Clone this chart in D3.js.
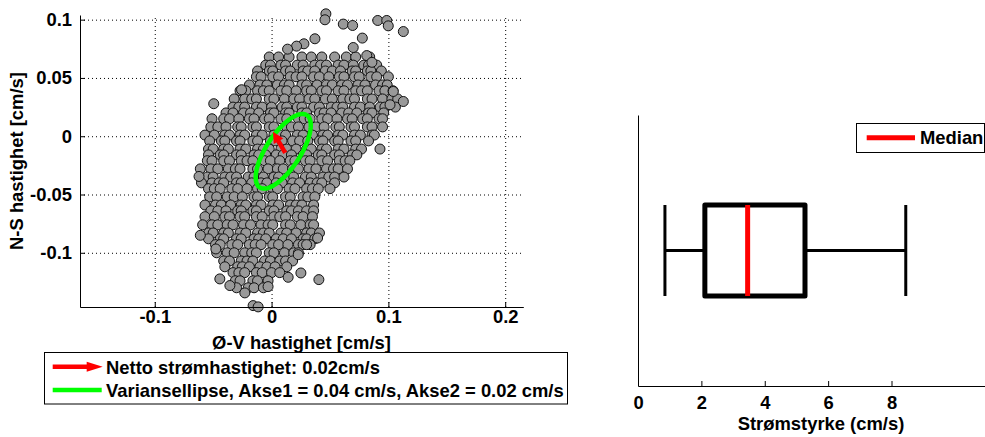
<!DOCTYPE html>
<html><head><meta charset="utf-8">
<script src="https://cdn.jsdelivr.net/npm/d3@7"></script>
<style>
body{margin:0;background:#fff}
svg{display:block}
text{font-family:"Liberation Sans",Arial,sans-serif;font-weight:bold;fill:#000}
</style>
</head><body>
<svg id="c" width="985" height="437"></svg>
<script>
// ---------- DATA ----------
const xTicks = [-0.1, 0, 0.1, 0.2];
const xTickLabels = ["-0.1", "0", "0.1", "0.2"];
const yTicks = [-0.1, -0.05, 0, 0.05, 0.1];
const yTickLabels = ["-0.1", "-0.05", "0", "0.05", "0.1"];

// scatter cloud (Ø-V, N-S velocities)
const cloudRowY = [0.068, 0.061, 0.056, 0.051, 0.044, 0.039, 0.032, 0.025, 0.020, 0.015, 0.008, 0.001,
  -0.004, -0.011, -0.016, -0.021, -0.028, -0.035, -0.040, -0.045, -0.052, -0.059, -0.064, -0.069,
  -0.076, -0.083, -0.088, -0.093, -0.100, -0.107, -0.112, -0.117, -0.124, -0.130];
const cloudRowX = [
  [-0.002, 0.006, 0.015, 0.026, 0.034, 0.043, 0.054, 0.064, 0.072, 0.084],
  [-0.005, -0.001, 0.008, 0.012, 0.022, 0.027, 0.037, 0.042, 0.047, 0.057, 0.062, 0.070, 0.079, 0.083, 0.090],
  [-0.012, -0.002, 0.001, 0.012, 0.016, 0.027, 0.031, 0.037, 0.046, 0.052, 0.059, 0.069, 0.072, 0.082, 0.085, 0.094],
  [-0.013, -0.009, 0.001, 0.006, 0.016, 0.021, 0.026, 0.036, 0.041, 0.049, 0.058, 0.062, 0.071, 0.075, 0.085, 0.090, 0.100],
  [-0.019, -0.010, -0.004, 0.005, 0.011, 0.015, 0.026, 0.030, 0.039, 0.047, 0.052, 0.060, 0.065, 0.074, 0.080, 0.089, 0.095, 0.099],
  [-0.027, -0.022, -0.012, -0.007, -0.002, 0.008, 0.013, 0.021, 0.030, 0.034, 0.043, 0.047, 0.057, 0.062, 0.072, 0.077, 0.082, 0.092, 0.097, 0.104],
  [-0.032, -0.023, -0.017, -0.013, -0.002, 0.002, 0.011, 0.019, 0.024, 0.032, 0.037, 0.046, 0.052, 0.061, 0.067, 0.071, 0.082, 0.086, 0.095, 0.103, 0.108],
  [-0.033, -0.028, -0.023, -0.013, -0.008, 0, 0.009, 0.013, 0.022, 0.026, 0.036, 0.041, 0.051, 0.056, 0.061, 0.071, 0.076, 0.084, 0.093, 0.097, 0.106],
  [-0.039, -0.033, -0.024, -0.018, -0.011, -0.001, 0.002, 0.012, 0.015, 0.026, 0.030, 0.041, 0.045, 0.051, 0.060, 0.066, 0.073, 0.083, 0.086, 0.096],
  [-0.051, -0.041, -0.036, -0.028, -0.019, -0.015, -0.006, -0.002, 0.008, 0.013, 0.023, 0.028, 0.033, 0.043, 0.048, 0.056, 0.065, 0.069, 0.078, 0.082, 0.092, 0.095],
  [-0.052, -0.046, -0.039, -0.029, -0.026, -0.016, -0.013, -0.002, 0.002, 0.013, 0.017, 0.023, 0.032, 0.038, 0.045, 0.055, 0.058, 0.068, 0.071, 0.082, 0.086, 0.095],
  [-0.057, -0.049, -0.040, -0.036, -0.027, -0.023, -0.013, -0.008, 0.002, 0.007, 0.012, 0.022, 0.027, 0.035, 0.044, 0.048, 0.057, 0.061, 0.071, 0.076, 0.086, 0.088],
  [-0.053, -0.043, -0.040, -0.030, -0.027, -0.016, -0.012, -0.001, 0.003, 0.009, 0.018, 0.024, 0.031, 0.041, 0.044, 0.054, 0.057, 0.068, 0.072, 0.083],
  [-0.054, -0.050, -0.041, -0.037, -0.027, -0.022, -0.012, -0.007, -0.002, 0.008, 0.013, 0.021, 0.030, 0.034, 0.043, 0.047, 0.057, 0.062, 0.072, 0.077],
  [-0.054, -0.044, -0.041, -0.030, -0.026, -0.015, -0.011, -0.005, 0.004, 0.010, 0.017, 0.027, 0.030, 0.040, 0.043, 0.054, 0.058, 0.069, 0.073],
  [-0.055, -0.051, -0.041, -0.036, -0.026, -0.021, -0.016, -0.006, -0.001, 0.007, 0.016, 0.020, 0.029, 0.033, 0.043, 0.048, 0.058, 0.063, 0.067],
  [-0.061, -0.052, -0.046, -0.037, -0.031, -0.027, -0.016, -0.012, -0.003, 0.005, 0.010, 0.018, 0.023, 0.032, 0.038, 0.047, 0.053, 0.057, 0.065],
  [-0.055, -0.050, -0.040, -0.035, -0.030, -0.020, -0.015, -0.007, 0.002, 0.006, 0.015, 0.019, 0.029, 0.034, 0.044, 0.049, 0.054, 0.062],
  [-0.060, -0.051, -0.045, -0.041, -0.030, -0.026, -0.017, -0.009, -0.004, 0.004, 0.009, 0.018, 0.024, 0.033, 0.039, 0.043, 0.054],
  [-0.054, -0.049, -0.044, -0.034, -0.029, -0.021, -0.012, -0.008, 0.001, 0.005, 0.015, 0.020, 0.030, 0.035, 0.040, 0.050],
  [-0.053, -0.047, -0.038, -0.032, -0.025, -0.015, -0.012, -0.002, 0.001, 0.012, 0.016, 0.027, 0.031, 0.037],
  [-0.057, -0.048, -0.043, -0.035, -0.026, -0.022, -0.013, -0.009, 0.001, 0.006, 0.016, 0.021, 0.026, 0.036],
  [-0.052, -0.046, -0.039, -0.029, -0.026, -0.016, -0.013, -0.002, 0.002, 0.013, 0.017, 0.023, 0.030, 0.036],
  [-0.057, -0.049, -0.040, -0.036, -0.027, -0.023, -0.013, -0.008, 0.002, 0.007, 0.012, 0.022, 0.027, 0.035],
  [-0.059, -0.051, -0.046, -0.038, -0.033, -0.024, -0.018, -0.009, -0.003, 0.001, 0.012, 0.016, 0.025, 0.033, 0.036],
  [-0.054, -0.050, -0.041, -0.037, -0.027, -0.022, -0.012, -0.007, -0.002, 0.008, 0.013, 0.021, 0.030, 0.034, 0.041],
  [-0.054, -0.044, -0.041, -0.030, -0.026, -0.015, -0.011, -0.005, 0.004, 0.010, 0.017, 0.027, 0.030, 0.037],
  [-0.048, -0.044, -0.034, -0.029, -0.019, -0.014, -0.009, 0.001, 0.006, 0.014, 0.023, 0.027, 0.033],
  [-0.047, -0.038, -0.032, -0.023, -0.017, -0.013, -0.002, 0.002, 0.011, 0.019, 0.023],
  [-0.041, -0.036, -0.026, -0.021, -0.016, -0.006, -0.001, 0.007, 0.012, 0.018],
  [-0.040, -0.029, -0.025, -0.019, -0.010, -0.004, 0.003, 0.013],
  [-0.033, -0.028, -0.023, -0.013, -0.008, 0, 0.007],
  [-0.031, -0.027, -0.016, -0.012, -0.003],
  [-0.030, -0.020, -0.015, -0.007]
];
// isolated points around the cloud
const outlierX = [0.0465, 0.0457, 0.0614, 0.0694, 0.0909, 0.0986, 0.0999, 0.1128, 0.0777, 0.0699, 0.0371, 0.0277,
  0.0214, 0.0137, 0.0815, 0.0859, -0.0257, -0.0495, -0.0621, -0.0610, 0.0928, 0.1128, 0.1042, 0.1014,
  -0.0477, -0.0443, -0.0357, -0.0229, -0.0158, -0.0115, 0.0142, 0.0251, 0.0405, 0.0394, 0.0300, 0.0228, -0.0030];
const outlierY = [0.1050, 0.0999, 0.0962, 0.0950, 0.0993, 0.0993, 0.0947, 0.0898, 0.0842, 0.0761, 0.0836, 0.0793,
  0.0773, 0.0747, 0.0692, 0.0634, 0.0399, 0.0279, -0.0345, -0.0850, -0.0110, 0.0298, 0.0384, 0.0270,
  -0.0967, -0.1224, -0.1281, -0.1344, -0.1453, -0.1464, -0.1210, -0.1173, -0.1230, -0.0873, -0.0930, -0.1016, -0.1290];

// variance ellipse and net current arrow
const ellipseCenter = [0.0100, -0.0129];
const ellipseSemiAxes = [0.0370, 0.0146];
const ellipseAngleDeg = 57;
const netArrowFrom = [0.0117, -0.0142];
const netArrowTo = [0.0012, 0.0038];

// box plot of current speed (cm/s)
const boxTicks = [0, 2, 4, 6, 8];
const boxWhiskerLow = 0.85, boxQ1 = 2.11, boxMedian = 3.46, boxQ3 = 5.27, boxWhiskerHigh = 8.45;

const legendLabels = ["Netto strømhastighet: 0.02cm/s", "Variansellipse, Akse1 = 0.04 cm/s, Akse2 = 0.02 cm/s"];

// ---------- DRAW ----------
const svg = d3.select("#c");
const FS = 18.4;
const x = d3.scaleLinear().domain([-0.164, 0.2155]).range([80, 523.3]);
const y = d3.scaleLinear().domain([-0.1465, 0.104]).range([307, 15]);

// grid
const gx = svg.append("g").attr("transform", "translate(0,307)")
  .call(d3.axisBottom(x).tickValues(xTicks).tickSize(-292).tickFormat(""));
gx.select(".domain").remove();
gx.selectAll("line").attr("stroke", "#000").attr("stroke-width", 1).attr("stroke-dasharray", "1,3");
const gy = svg.append("g").attr("transform", "translate(80,0)")
  .call(d3.axisLeft(y).tickValues(yTicks).tickSize(-(523.3 - 80)).tickFormat(""));
gy.select(".domain").remove();
gy.selectAll("line").attr("stroke", "#000").attr("stroke-width", 1).attr("stroke-dasharray", "1,3");

// points
const pts = [];
cloudRowY.forEach((yy, i) => cloudRowX[i].forEach(xx => pts.push([xx, yy])));
outlierX.forEach((xx, i) => pts.push([xx, outlierY[i]]));
svg.append("g").selectAll("circle").data(pts).join("circle")
  .attr("cx", d => x(d[0])).attr("cy", d => y(d[1])).attr("r", 5)
  .attr("fill", "#999999").attr("stroke", "#111").attr("stroke-width", 1);

// ellipse
const th = ellipseAngleDeg * Math.PI / 180;
const ePts = d3.range(0, 361, 4).map(t => {
  const r = t * Math.PI / 180;
  const a = ellipseSemiAxes[0] * Math.cos(r), b = ellipseSemiAxes[1] * Math.sin(r);
  return [ellipseCenter[0] + a * Math.cos(th) - b * Math.sin(th), ellipseCenter[1] + a * Math.sin(th) + b * Math.cos(th)];
});
svg.append("path").attr("d", d3.line().x(d => x(d[0])).y(d => y(d[1]))(ePts))
  .attr("fill", "none").attr("stroke", "#00ff00").attr("stroke-width", 4.5);

// arrow
function arrow(g, x1, y1, x2, y2, len, half, w) {
  const ang = Math.atan2(y2 - y1, x2 - x1);
  const bx = x2 - len * Math.cos(ang), by = y2 - len * Math.sin(ang);
  g.append("line").attr("x1", x1).attr("y1", y1).attr("x2", bx + Math.cos(ang)).attr("y2", by + Math.sin(ang))
    .attr("stroke", "#ff0000").attr("stroke-width", w);
  g.append("path").attr("d", `M${x2},${y2}L${bx - half * Math.sin(ang)},${by + half * Math.cos(ang)}L${bx + half * Math.sin(ang)},${by - half * Math.cos(ang)}Z`)
    .attr("fill", "#ff0000");
}
arrow(svg, x(netArrowFrom[0]), y(netArrowFrom[1]), x(netArrowTo[0]), y(netArrowTo[1]), 11, 5.5, 4.5);

// axes
const ax = svg.append("g").attr("transform", "translate(0,307)")
  .call(d3.axisBottom(x).tickValues(xTicks).tickSizeInner(-5).tickSizeOuter(0).tickPadding(3.3)
    .tickFormat((d, i) => xTickLabels[i]));
const ay = svg.append("g").attr("transform", "translate(80,0)")
  .call(d3.axisLeft(y).tickValues(yTicks).tickSizeInner(-5).tickSizeOuter(0).tickPadding(8)
    .tickFormat((d, i) => yTickLabels[i]));
[ax, ay].forEach(g => {
  g.attr("font-size", FS).attr("font-family", null);
  g.selectAll("text").attr("font-size", FS);
  g.select(".domain").attr("stroke", "#000");
});

svg.append("text").attr("x", 301.5).attr("y", 349).attr("text-anchor", "middle").attr("font-size", FS)
  .text("Ø-V hastighet [cm/s]");
svg.append("text").attr("transform", "translate(23,161) rotate(-90)").attr("text-anchor", "middle")
  .attr("font-size", FS).text("N-S hastighet [cm/s]");

// legend left
const lg = svg.append("g");
lg.append("rect").attr("x", 44.5).attr("y", 352.5).attr("width", 523).attr("height", 51.5)
  .attr("fill", "#fff").attr("stroke", "#000").attr("stroke-width", 1);
arrow(lg, 52.7, 366.7, 102.7, 366.7, 16, 5, 4.5);
lg.append("line").attr("x1", 52.7).attr("x2", 101.7).attr("y1", 390).attr("y2", 390)
  .attr("stroke", "#00ff00").attr("stroke-width", 4.5);
lg.append("text").attr("x", 106).attr("y", 373.5).attr("font-size", FS).text(legendLabels[0]);
lg.append("text").attr("x", 106).attr("y", 397).attr("font-size", FS).text(legendLabels[1]);

// box plot
const xb = d3.scaleLinear().domain([0, 11.55]).range([638, 1004]);
const yb = d3.scaleLinear().domain([0, 1]).range([386, 115]);
const bx = svg.append("g").attr("transform", "translate(0,386)")
  .call(d3.axisBottom(xb).tickValues(boxTicks).tickSizeInner(-5).tickSizeOuter(0).tickPadding(9.5));
bx.attr("font-size", FS).attr("font-family", null);
bx.selectAll("text").attr("font-size", FS);
bx.select(".domain").attr("stroke", "#000");
const byA = svg.append("g").attr("transform", "translate(638,0)")
  .call(d3.axisLeft(yb).tickValues([]).tickSizeOuter(0));
byA.select(".domain").attr("stroke", "#000");

const yc = 0.5, hw = 0.168;
const bp = svg.append("g").attr("stroke", "#000").attr("fill", "none").attr("stroke-linejoin", "round");
bp.append("line").attr("x1", xb(boxWhiskerLow)).attr("x2", xb(boxQ1)).attr("y1", yb(yc)).attr("y2", yb(yc)).attr("stroke-width", 3);
bp.append("line").attr("x1", xb(boxQ3)).attr("x2", xb(boxWhiskerHigh)).attr("y1", yb(yc)).attr("y2", yb(yc)).attr("stroke-width", 3);
[boxWhiskerLow, boxWhiskerHigh].forEach(v => bp.append("line").attr("x1", xb(v)).attr("x2", xb(v))
  .attr("y1", yb(yc + hw)).attr("y2", yb(yc - hw)).attr("stroke-width", 3));
bp.append("rect").attr("x", xb(boxQ1)).attr("y", yb(yc + hw)).attr("width", xb(boxQ3) - xb(boxQ1))
  .attr("height", yb(yc - hw) - yb(yc + hw)).attr("stroke-width", 5);
bp.append("line").attr("x1", xb(boxMedian)).attr("x2", xb(boxMedian)).attr("y1", yb(yc + hw)).attr("y2", yb(yc - hw))
  .attr("stroke", "#ff0000").attr("stroke-width", 5);

svg.append("text").attr("x", 821).attr("y", 430).attr("text-anchor", "middle").attr("font-size", FS)
  .text("Strømstyrke (cm/s)");

// median legend
const ml = svg.append("g");
ml.append("rect").attr("x", 856.5).attr("y", 123.5).attr("width", 128).attr("height", 29)
  .attr("fill", "#fff").attr("stroke", "#000");
ml.append("line").attr("x1", 866.7).attr("x2", 915).attr("y1", 137.7).attr("y2", 137.7)
  .attr("stroke", "#ff0000").attr("stroke-width", 5);
ml.append("text").attr("x", 920).attr("y", 144).attr("font-size", FS).text("Median");
</script>
</body></html>
